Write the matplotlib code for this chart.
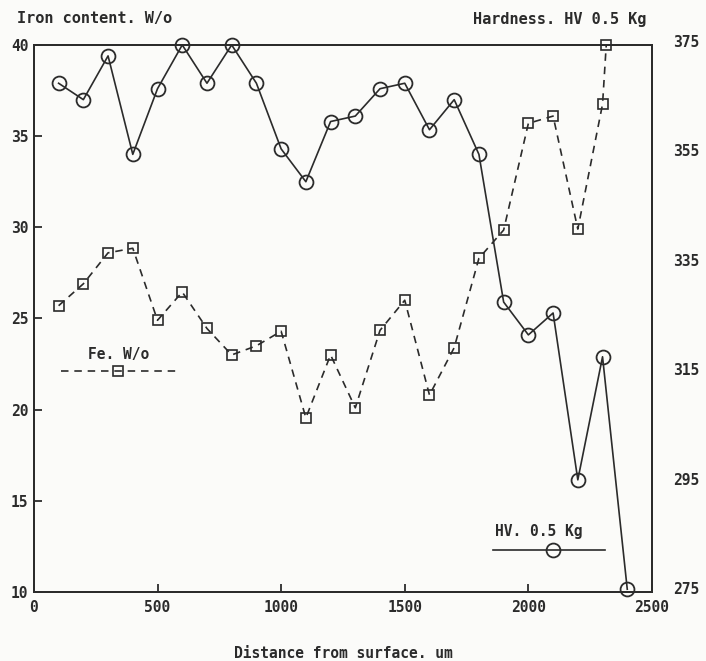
import matplotlib.pyplot as plt
import matplotlib.transforms as mtransforms
import numpy as np

# distance from surface, um
dist_hv = [100, 200, 300, 400, 500, 600, 700, 800, 900, 1000, 1100, 1200,
           1300, 1400, 1500, 1600, 1700, 1800, 1900, 2000, 2100, 2200, 2300, 2400]
hardness = [368, 365, 373, 355, 367, 375, 368, 375, 368, 356, 350, 361,
            362, 367, 368, 359.5, 365, 355, 328, 322, 326, 295.5, 318, 275.5]

dist_fe = [100, 200, 300, 400, 500, 600, 700, 800, 900, 1000, 1100, 1200,
           1300, 1400, 1500, 1600, 1700, 1800, 1900, 2000, 2100, 2200, 2300, 2315]
iron = [25.7, 26.9, 28.6, 28.85, 24.9, 26.45, 24.45, 23.0, 23.5, 24.3, 19.55, 23.0,
        20.1, 24.35, 26.0, 20.8, 23.4, 28.3, 29.85, 35.7, 36.1, 29.9, 36.75, 40.0]

ink = '#2b2b2b'
font = 'DejaVu Sans Mono'
plt.rcParams['font.family'] = font
plt.rcParams['font.weight'] = 'bold'
plt.rcParams['axes.labelweight'] = 'bold'

fig = plt.figure(figsize=(7.06, 6.61), dpi=100, facecolor='#fbfbf9')
ax = fig.add_axes([0.048, 0.1044, 0.8755, 0.8276])
ax.set_facecolor('none')
ax2 = ax.twinx()

ax.plot(dist_fe, iron, color=ink, lw=1.2, ls=(0, (4.5, 3.5)), marker='s',
        ms=6.5, mfc='none', mec=ink, mew=1.2, clip_on=False)
ax2.plot(dist_hv, hardness, color=ink, lw=1.2, marker='o',
         ms=10, mfc='none', mec=ink, mew=1.3, clip_on=False)

ax.set_xlim(0, 2500)
ax.set_ylim(10, 40)
ax2.set_ylim(275, 375)
ax.set_xticks(np.arange(0, 2501, 500))
ax.set_yticks(np.arange(10, 41, 5))
ax2.set_yticks(np.arange(275, 376, 20))

ax.tick_params(direction='in', length=6, width=1.3, colors=ink, labelsize=10.5, pad=6)
ax.tick_params(axis='y', pad=4)
ax2.tick_params(axis='y', length=0, pad=15, colors=ink, labelsize=10.5)
shift = mtransforms.ScaledTranslation(0, 0.04, fig.dpi_scale_trans)
for lab in ax2.get_yticklabels():
    lab.set_transform(lab.get_transform() + shift)
for a in (ax, ax2):
    for s in a.spines.values():
        s.set_color(ink)
        s.set_linewidth(1.3)

ax.set_xlabel('Distance from surface. um', fontsize=10.5, color=ink, labelpad=22)
fig.text(0.024, 0.972, 'Iron content. W/o', fontsize=11, color=ink, ha='left', va='center')
fig.text(0.915, 0.970, 'Hardness. HV 0.5 Kg', fontsize=11, color=ink, ha='right', va='center')

# legend-style keys drawn inside the plot
ax.text(343, 23.05, 'Fe. W/o', fontsize=10.5, color=ink, ha='center', va='center')
ax.plot([110, 580], [22.1, 22.1], color=ink, lw=1.2, ls=(0, (4.5, 3.5)))
ax.plot([340], [22.1], marker='s', ms=6.5, mfc='none', mec=ink, mew=1.2)
ax.text(2040, 13.3, 'HV. 0.5 Kg', fontsize=10.5, color=ink, ha='center', va='center')
ax.plot([1855, 2310], [12.3, 12.3], color=ink, lw=1.2)
ax.plot([2100], [12.3], marker='o', ms=10, mfc='none', mec=ink, mew=1.3)

fig.savefig('out.png', dpi=100, facecolor=fig.get_facecolor())
